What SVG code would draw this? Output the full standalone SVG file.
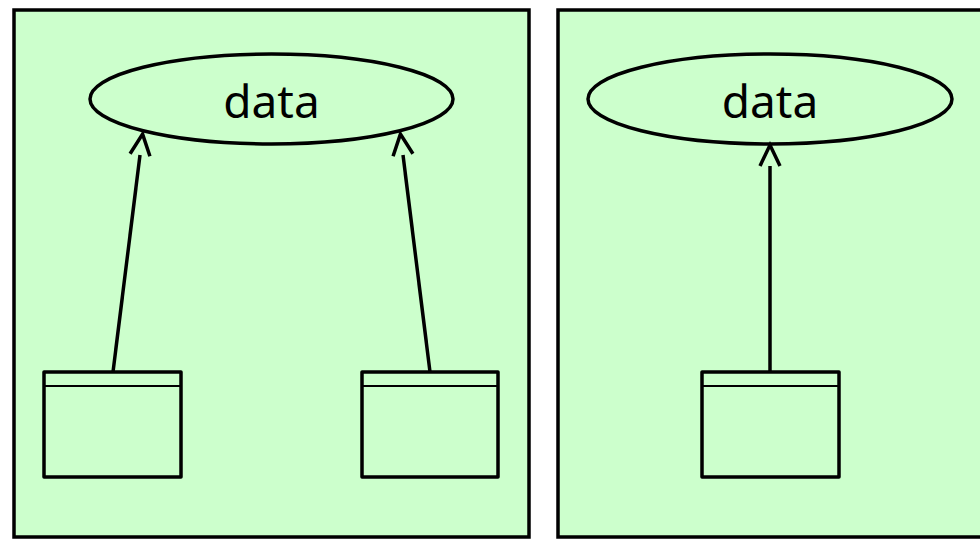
<svg xmlns="http://www.w3.org/2000/svg" width="980" height="539" viewBox="0 0 980 539">
<defs>
<style>
.panel{fill:#ccffcc;stroke:#000;stroke-width:3.5}
.ell{fill:#ccffcc;stroke:#000;stroke-width:3.5}
.box{fill:#ccffcc;stroke:#000;stroke-width:3.5;stroke-linejoin:round}
.div{stroke:#000;stroke-width:2}
.lbl{font-family:"Noto Sans","Liberation Sans",sans-serif;font-size:46px;fill:#000;text-anchor:middle}
.edge{fill:none;stroke:#000;stroke-width:3.5;marker-end:url(#vh)}
</style>
<marker id="vh" markerUnits="userSpaceOnUse" viewBox="-24 -12 26 24" refX="-21" refY="0" markerWidth="26" markerHeight="24" orient="auto" overflow="visible">
<path d="M-21,-10 L0,0 L-21,10" fill="none" stroke="#000" stroke-width="3.5"/>
</marker>
</defs>
<rect width="980" height="539" fill="#fff"/>
<g id="panel-left"><rect class="panel" x="14" y="10" width="515" height="527"/></g>
<g id="panel-right"><rect class="panel" x="558" y="10" width="440" height="527"/></g>
<g id="data-left"><ellipse class="ell" cx="271.5" cy="99" rx="181.5" ry="45"/><text class="lbl" x="271.5" y="118">data</text></g>
<g id="data-right"><ellipse class="ell" cx="770" cy="99" rx="182" ry="45"/><text class="lbl" x="770" y="118">data</text></g>
<g id="box-left-1"><rect class="box" x="44" y="372" width="137" height="105"/><line class="div" x1="44" y1="386" x2="181" y2="386"/></g>
<g id="box-left-2"><rect class="box" x="362" y="372" width="136" height="105"/><line class="div" x1="362" y1="386" x2="498" y2="386"/></g>
<g id="box-right"><rect class="box" x="702" y="372" width="137" height="105"/><line class="div" x1="702" y1="386" x2="839" y2="386"/></g>
<g id="connectors">
<path class="edge" d="M113,372 L140,155"/>
<path class="edge" d="M430,372 L403,155"/>
<path class="edge" d="M770,372 L770,166"/>
</g>
</svg>
